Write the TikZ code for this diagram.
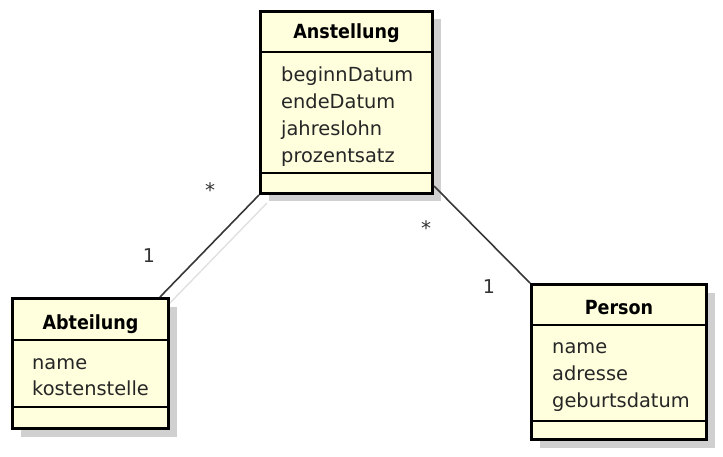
\documentclass[tikz,border=0pt]{standalone}
\usepackage{fontspec}
\setmainfont{DejaVu Sans}
\newfontfamily\titlefont{DejaVu Sans Condensed}
\usetikzlibrary{positioning,calc,shadows,backgrounds}
\definecolor{ClassFill}{RGB}{255,255,222}
\definecolor{ShadowGray}{RGB}{208,208,208}
\definecolor{LinkGray}{RGB}{55,55,55}
\tikzset{
  cls/.style={draw=black,fill=ClassFill,line width=3pt,anchor=north west,inner sep=0pt,
    drop shadow={shadow xshift=8pt,shadow yshift=-8pt,fill=ShadowGray,opacity=1}},
  sep/.style={draw=black,line width=1.6pt},
  ctitle/.style={anchor=base,inner sep=0pt,font=\fontsize{19.5}{22}\titlefont\bfseries},
  attr/.style={anchor=base west,inner sep=0pt,font=\fontsize{19.4}{23}\selectfont,text=black!85},
}
\tikzset{link/.style={draw=LinkGray,line width=1.6pt},linkshadow/.style={draw=black!12,line width=1.4pt},
  mult/.style={anchor=base,inner sep=0pt,font=\fontsize{19}{22}\selectfont,text=black!80},
  star/.style={anchor=base,inner sep=0pt,font=\fontsize{20}{22}\selectfont,text=black!80}}

\begin{document}
\begin{tikzpicture}[x=1pt,y=-1pt]
\useasboundingbox (0,0) rectangle (723,457);
% classes
\node[cls,minimum width=172pt,minimum height=182pt] (anst) at (259,10) {};
\node[cls,minimum width=156pt,minimum height=130pt] (abt) at (11,297) {};
\node[cls,minimum width=175pt,minimum height=155pt] (pers) at (530,283) {};
% compartments
\draw[sep] (anst.west |- 0,52) -- (anst.east |- 0,52);
\draw[sep] (anst.west |- 0,173) -- (anst.east |- 0,173);
\draw[sep] (abt.west |- 0,340) -- (abt.east |- 0,340);
\draw[sep] (abt.west |- 0,407) -- (abt.east |- 0,407);
\draw[sep] (pers.west |- 0,325) -- (pers.east |- 0,325);
\draw[sep] (pers.west |- 0,421) -- (pers.east |- 0,421);
% names
\node[ctitle] (anst-t) at (anst.north |- 0,39) {Anstellung};
\node[ctitle] (abt-t) at (abt.north |- 0,329) {Abteilung};
\node[ctitle] (pers-t) at (pers.north |- 0,314) {Person};
% attributes
\foreach \a [count=\i] in {beginnDatum,endeDatum,jahreslohn,prozentsatz}
  \node[attr] (anst-a\i) at (281,55.3+26.7*\i) {\a};
\foreach \a [count=\i] in {name,kostenstelle}
  \node[attr] (abt-a\i) at (32,343+26*\i) {\a};
\foreach \a [count=\i] in {name,adresse,geburtsdatum}
  \node[attr] (pers-a\i) at (552,326+27*\i) {\a};
% associations
\draw[link] (anst.south west) -- ([xshift=-10pt]abt.north east);
\draw[link] ([yshift=9pt]anst.south east) -- (pers.north west);
\begin{pgfonlayer}{background}
\draw[linkshadow] ([shift={(8pt,-8pt)}]anst.south west) -- ([shift={(-2pt,-8pt)}]abt.north east);
\end{pgfonlayer}
\node[star] (m1) at (210,198) {*};
\node[mult] (m2) at (149,262) {1};
\node[star] (m3) at (426,236) {*};
\node[mult] (m4) at (489,293) {1};
\end{tikzpicture}
\end{document}
